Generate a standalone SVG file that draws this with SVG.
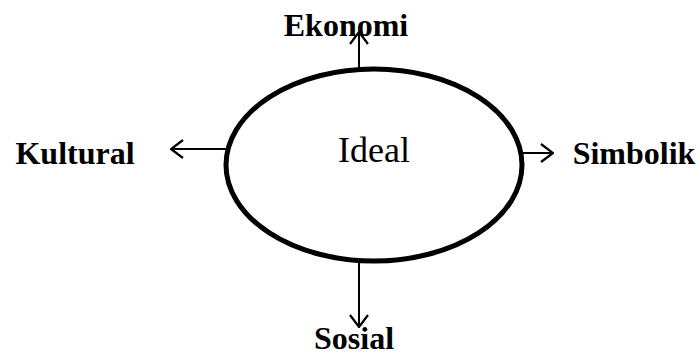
<svg xmlns="http://www.w3.org/2000/svg" width="700" height="355" viewBox="0 0 700 355">
<defs>
<style>
.lbl{font-family:"Liberation Serif","Times New Roman",serif;font-weight:bold;font-size:32px;fill:#000}
.ctr{font-family:"Liberation Serif","Times New Roman",serif;font-size:36px;fill:#000}
.ln{stroke:#000;stroke-width:2;fill:none}
</style>
<marker id="ah" viewBox="0 0 14 20" refX="13" refY="10" markerWidth="14" markerHeight="20" markerUnits="userSpaceOnUse" orient="auto">
<path d="M1,1 L13,10 L1,19" fill="none" stroke="#000" stroke-width="2.2"/>
</marker>
</defs>
<rect width="700" height="355" fill="#fff"/>
<g id="connectors">
<line class="ln" x1="359" y1="68" x2="359" y2="32" marker-end="url(#ah)"/>
<line class="ln" x1="226" y1="149" x2="171" y2="149" marker-end="url(#ah)"/>
<line class="ln" x1="522" y1="153" x2="553" y2="153" marker-end="url(#ah)"/>
<line class="ln" x1="359" y1="262" x2="359" y2="327" marker-end="url(#ah)"/>
</g>
<g id="ideal">
<ellipse cx="374" cy="165" rx="148" ry="96" fill="none" stroke="#000" stroke-width="5"/>
<text class="ctr" x="374" y="162" text-anchor="middle">Ideal</text>
</g>
<g id="ekonomi"><text class="lbl" x="346" y="36" text-anchor="middle">Ekonomi</text></g>
<g id="kultural"><text class="lbl" x="75" y="164" text-anchor="middle">Kultural</text></g>
<g id="simbolik"><text class="lbl" x="634" y="164" text-anchor="middle">Simbolik</text></g>
<g id="sosial"><text class="lbl" x="354" y="349" text-anchor="middle">Sosial</text></g>
</svg>
